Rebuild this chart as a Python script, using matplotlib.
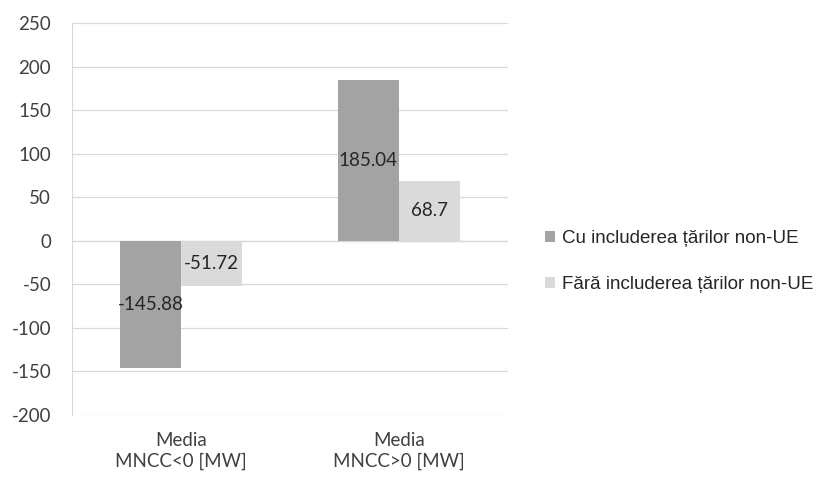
import numpy as np
import matplotlib.pyplot as plt
from matplotlib.patches import Patch

categories = ['Media\nMNCC<0 [MW]', 'Media\nMNCC>0 [MW]']
series_names = ['Cu includerea țărilor non-UE', 'Fără includerea țărilor non-UE']
cu_non_ue = [-145.88, 185.04]
fara_non_ue = [-51.72, 68.7]
y_ticks = [-200, -150, -100, -50, 0, 50, 100, 150, 200, 250]

colors = ['#a3a3a3', '#dadada']
label_font = 'Lato'

fig = plt.figure(figsize=(8.35, 4.82), dpi=100)
ax = fig.add_axes([0.0862, 0.139, 0.522, 0.813])

x = np.arange(len(categories))
w = 0.28
for i, (vals, col) in enumerate(zip([cu_non_ue, fara_non_ue], colors)):
    xs = x - w / 2 + i * w
    ax.bar(xs, vals, width=w, color=col, zorder=2)
    for xi, v in zip(xs, vals):
        ax.text(xi, v / 2, f'{v:g}', ha='center', va='center', fontsize=13.5,
                family=label_font, color='#262626', zorder=3)

ax.set_xlim(-0.5, 1.5)
ax.set_ylim(-200, 250)
ax.set_yticks(y_ticks)
ax.set_yticklabels([str(t) for t in y_ticks], family=label_font, fontsize=13.5, color='#404040')
ax.set_xticks(x)
ax.set_xticklabels(categories, family=label_font, fontsize=13.5, color='#404040',
                   linespacing=1.25)
ax.tick_params(axis='y', length=0, pad=15)
ax.tick_params(axis='x', length=0, pad=12)

ax.grid(axis='y', color='#d9d9d9', linewidth=0.9, zorder=0)
ax.axhline(0, color='#c8c8c8', linewidth=0.9, zorder=1)
for s in ['top', 'right', 'bottom']:
    ax.spines[s].set_visible(False)
ax.spines['left'].set_color('#d9d9d9')

handles = [Patch(facecolor=c, edgecolor='none') for c in colors]
fig.legend(handles, series_names, loc='center left', bbox_to_anchor=(0.632, 0.457),
           frameon=False, handlelength=0.55, handleheight=0.55, handletextpad=0.4,
           labelspacing=1.55, prop={'family': 'Liberation Sans', 'size': 13.5},
           labelcolor='#262626')

fig.savefig('out.png', dpi=100)
